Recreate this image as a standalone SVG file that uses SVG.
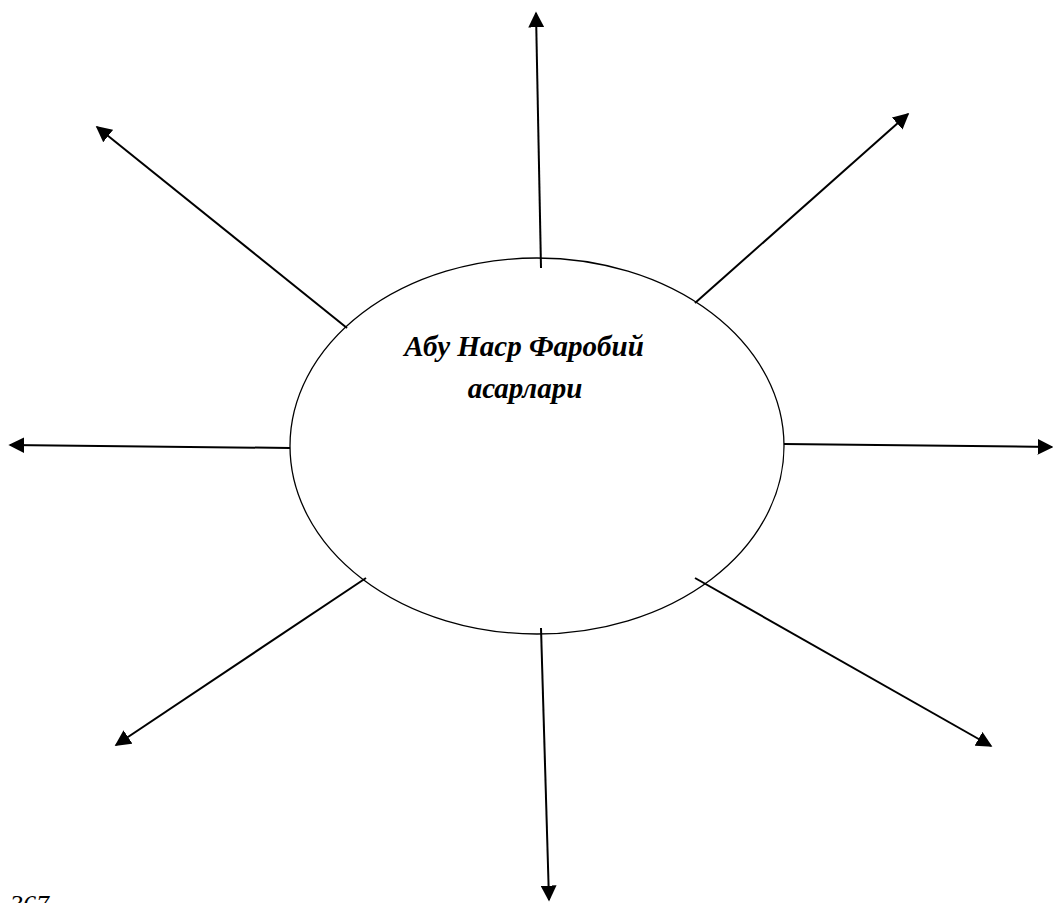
<svg xmlns="http://www.w3.org/2000/svg" width="1053" height="903" viewBox="0 0 1053 903">
<style>
.ln{stroke:#000;stroke-width:2;fill:none}
.t{font-family:"Liberation Serif","Times New Roman",serif;font-style:italic;font-weight:bold;font-size:29px;fill:#000}
</style>
<defs>
<marker id="ah" viewBox="0 0 10 10" refX="9" refY="5" markerWidth="8" markerHeight="8" markerUnits="strokeWidth" orient="auto">
<path d="M0,0 L10,5 L0,10 z" fill="#000"/>
</marker>
</defs>
<rect width="1053" height="903" fill="#fff"/>
<g id="center">
<ellipse cx="537" cy="446" rx="247" ry="188" fill="#fff" stroke="#000" stroke-width="1.3"/>
<text class="t" x="524" y="356" text-anchor="middle">Абу Наср Фаробий</text>
<text class="t" x="525" y="398" text-anchor="middle">асарлари</text>
</g>
<g id="connectors">
<line class="ln" x1="541" y1="268" x2="536" y2="13" marker-end="url(#ah)"/>
<line class="ln" x1="695" y1="303" x2="908" y2="114" marker-end="url(#ah)"/>
<line class="ln" x1="784" y1="444" x2="1052" y2="447" marker-end="url(#ah)"/>
<line class="ln" x1="695" y1="578" x2="991" y2="746" marker-end="url(#ah)"/>
<line class="ln" x1="541" y1="628" x2="549" y2="900" marker-end="url(#ah)"/>
<line class="ln" x1="366" y1="578" x2="116" y2="745" marker-end="url(#ah)"/>
<line class="ln" x1="290" y1="448" x2="10" y2="445" marker-end="url(#ah)"/>
<line class="ln" x1="347" y1="328" x2="97" y2="127" marker-end="url(#ah)"/>
</g>
<text x="10" y="913" font-family="'Liberation Serif','Times New Roman',serif" font-style="italic" font-size="26">367</text>
</svg>
